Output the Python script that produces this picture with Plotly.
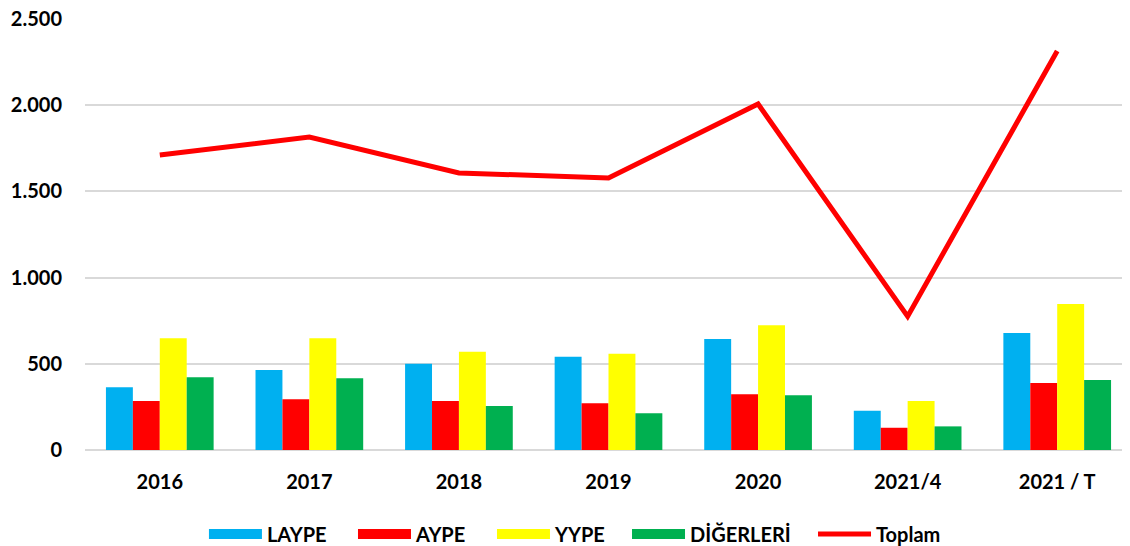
import plotly.graph_objects as go

categories = ["2016", "2017", "2018", "2019", "2020", "2021/4", "2021 / T"]
laype = [364, 464, 500, 541, 644, 228, 679]
aype = [284, 294, 284, 271, 323, 129, 389]
yype = [648, 648, 570, 559, 723, 284, 847]
digerleri = [422, 416, 255, 213, 317, 137, 406]
toplam = [1711, 1815, 1607, 1578, 2007, 775, 2314]

FONT = "Lato"
fig = go.Figure()
series = [("LAYPE", laype, "#00B0F0"), ("AYPE", aype, "#FF0000"),
          ("YYPE", yype, "#FFFF00"), ("DİĞERLERİ", digerleri, "#00B050")]
for name, vals, col in series:
    fig.add_trace(go.Bar(x=categories, y=vals, name=name, showlegend=False,
                         marker=dict(color=col, line=dict(width=0))))
fig.add_trace(go.Scatter(x=categories, y=toplam, name="Toplam", mode="lines",
                         showlegend=False, line=dict(color="#FF0000", width=5)))

# legend entries (wide rectangles like the original), each in its own legend box
legend_x = [0.1734, 0.3053, 0.4283, 0.5478, 0.7124]
legend_ids = ["legend", "legend2", "legend3", "legend4", "legend5"]
for i, (name, vals, col) in enumerate(series):
    fig.add_trace(go.Scatter(x=[None], y=[None], name=name, mode="lines",
                             legend=legend_ids[i], line=dict(color=col, width=14)))
fig.add_trace(go.Scatter(x=[None], y=[None], name="Toplam", mode="lines",
                         legend=legend_ids[4], line=dict(color="#FF0000", width=5)))

legend_common = dict(orientation="h", xanchor="left", xref="container",
                     yref="container", y=0.0366, yanchor="middle",
                     font=dict(family=FONT, size=20, color="black", weight="bold"),
                     itemwidth=53, bgcolor="rgba(0,0,0,0)")
layout_legends = {}
for lid, lx in zip(legend_ids, legend_x):
    layout_legends[lid] = dict(x=lx, **legend_common)

fig.update_layout(
    width=1130, height=546,
    margin=dict(l=77, r=6, t=11, b=104, autoexpand=False),
    plot_bgcolor="white", paper_bgcolor="white",
    barmode="group", bargap=0.28, bargroupgap=0,
    separators=",.",
    font=dict(family=FONT, size=20, color="black"),
    showlegend=True,
    **layout_legends,
)
fig.update_xaxes(showgrid=False, showline=False, ticks="", automargin=False,
                 tickfont=dict(family=FONT, size=20, weight="bold"), ticklabelstandoff=18)
fig.update_yaxes(range=[0, 2500], dtick=500, tickformat=",", showgrid=True, automargin=False,
                 gridcolor="#D9D9D9", gridwidth=1.5, zeroline=True, zerolinecolor="#D9D9D9",
                 zerolinewidth=2, ticks="", tickfont=dict(family=FONT, size=20, weight="bold"),
                 ticklabelstandoff=22, ticklabeloverflow="allow")

fig.write_html("out.html")
